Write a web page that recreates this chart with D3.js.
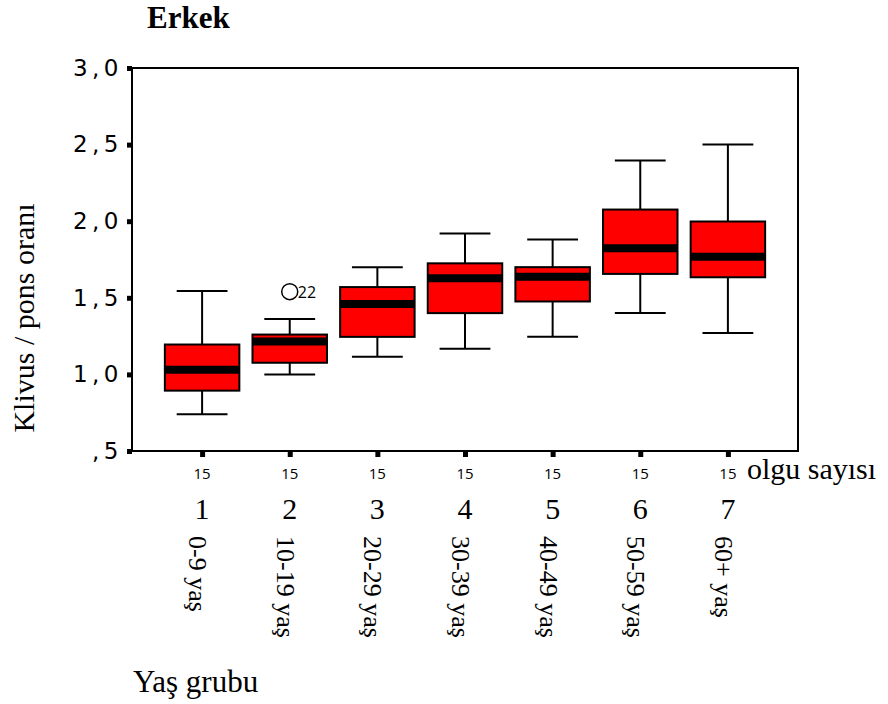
<!DOCTYPE html>
<html>
<head>
<meta charset="utf-8">
<script src="https://cdn.jsdelivr.net/npm/d3@7"></script>
<style>
  body { margin: 0; background: #fff; }
  svg { display: block; }
</style>
</head>
<body>
<svg id="chart" width="888" height="704"></svg>
<script>
// age groups (SPSS boxplot, Erkek)
const groups    = ["1", "2", "3", "4", "5", "6", "7"];
const ageLabels = ["0-9 yaş", "10-19 yaş", "20-29 yaş", "30-39 yaş", "40-49 yaş", "50-59 yaş", "60+ yaş"];
const counts    = [15, 15, 15, 15, 15, 15, 15];
const whiskLow  = [0.74, 1.00, 1.115, 1.167, 1.245, 1.40, 1.271];
const q1        = [0.894, 1.076, 1.245, 1.40, 1.476, 1.656, 1.634];
const medians   = [1.03, 1.214, 1.459, 1.628, 1.638, 1.823, 1.768];
const q3        = [1.195, 1.26, 1.57, 1.725, 1.70, 2.076, 1.998];
const whiskHigh = [1.545, 1.362, 1.70, 1.92, 1.881, 2.396, 2.50];
const outliers  = [{ group: "2", value: 1.54, label: "22" }];
const yTicks    = [0.5, 1.0, 1.5, 2.0, 2.5, 3.0];

const svg = d3.select("#chart");
const plot = { left: 132, right: 798, top: 68, bottom: 451 };

const x = d3.scalePoint().domain(groups).range([plot.left, plot.right]).padding(0.8);
const y = d3.scaleLinear().domain([0.5, 3.0]).range([plot.bottom, plot.top]);
const step = x.step();
const boxW = step * 0.85;
const capW = step * 0.58;

const data = groups.map((g, i) => ({
  g, lo: whiskLow[i], q1: q1[i], med: medians[i], q3: q3[i], hi: whiskHigh[i]
}));

// frame
svg.append("rect")
  .attr("x", plot.left).attr("y", plot.top)
  .attr("width", plot.right - plot.left).attr("height", plot.bottom - plot.top)
  .attr("fill", "none").attr("stroke", "#000").attr("stroke-width", 2);

// y axis
const yAxis = svg.append("g")
  .attr("transform", `translate(${plot.left},0)`)
  .call(d3.axisLeft(y).tickValues(yTicks).tickSizeInner(5).tickSizeOuter(0).tickPadding(4)
    .tickFormat(d => d3.format(".1f")(d).replace(".", ",").replace(/^0/, "")));
yAxis.select(".domain").remove();
yAxis.selectAll(".tick line").attr("stroke-width", 5);
yAxis.selectAll(".tick text")
  .attr("font-family", "DejaVu Sans").attr("font-size", 23)
  .attr("letter-spacing", 4.5).attr("fill", "#000");

// x axis ticks
const xAxis = svg.append("g")
  .attr("transform", `translate(0,${plot.bottom})`)
  .call(d3.axisBottom(x).tickSizeInner(6).tickSizeOuter(0).tickFormat(""));
xAxis.select(".domain").remove();
xAxis.selectAll(".tick line").attr("stroke-width", 5);

// boxes
const box = svg.append("g").selectAll("g").data(data).join("g");
box.append("line")
  .attr("x1", d => x(d.g)).attr("x2", d => x(d.g))
  .attr("y1", d => y(d.hi)).attr("y2", d => y(d.q3))
  .attr("stroke", "#000").attr("stroke-width", 2);
box.append("line")
  .attr("x1", d => x(d.g)).attr("x2", d => x(d.g))
  .attr("y1", d => y(d.q1)).attr("y2", d => y(d.lo))
  .attr("stroke", "#000").attr("stroke-width", 2);
box.append("line")
  .attr("x1", d => x(d.g) - capW / 2).attr("x2", d => x(d.g) + capW / 2)
  .attr("y1", d => y(d.hi)).attr("y2", d => y(d.hi))
  .attr("stroke", "#000").attr("stroke-width", 2);
box.append("line")
  .attr("x1", d => x(d.g) - capW / 2).attr("x2", d => x(d.g) + capW / 2)
  .attr("y1", d => y(d.lo)).attr("y2", d => y(d.lo))
  .attr("stroke", "#000").attr("stroke-width", 2);
box.append("rect")
  .attr("x", d => x(d.g) - boxW / 2).attr("width", boxW)
  .attr("y", d => y(d.q3)).attr("height", d => y(d.q1) - y(d.q3))
  .attr("fill", "#ff0000").attr("stroke", "#000").attr("stroke-width", 2);
box.append("line")
  .attr("x1", d => x(d.g) - boxW / 2).attr("x2", d => x(d.g) + boxW / 2)
  .attr("y1", d => y(d.med)).attr("y2", d => y(d.med))
  .attr("stroke", "#000").attr("stroke-width", 8);

// outliers
const out = svg.append("g").selectAll("g").data(outliers).join("g");
out.append("circle")
  .attr("cx", d => x(d.group)).attr("cy", d => y(d.value)).attr("r", 8)
  .attr("fill", "none").attr("stroke", "#000").attr("stroke-width", 1.5);
out.append("text")
  .attr("x", d => x(d.group) + 8).attr("y", d => y(d.value) + 6)
  .attr("font-family", "Open Sans").attr("font-size", 16)
  .text(d => d.label);

// counts
svg.append("g").selectAll("text").data(groups).join("text")
  .attr("x", d => x(d)).attr("y", 479)
  .attr("text-anchor", "middle")
  .attr("font-family", "Open Sans").attr("font-size", 15)
  .text((d, i) => counts[i]);
svg.append("text")
  .attr("x", x(groups[groups.length - 1]) + 19).attr("y", 479)
  .attr("font-family", "Liberation Serif").attr("font-size", 30)
  .text("olgu sayısı");

// group numbers
svg.append("g").selectAll("text").data(groups).join("text")
  .attr("x", d => x(d)).attr("y", 519)
  .attr("text-anchor", "middle")
  .attr("font-family", "Liberation Serif").attr("font-size", 30)
  .text(d => d);

// rotated age labels
svg.append("g").selectAll("text").data(groups).join("text")
  .attr("transform", d => `translate(${x(d)},536) rotate(90)`)
  .attr("dy", "0.5em")
  .attr("font-family", "Liberation Serif").attr("font-size", 26)
  .text((d, i) => ageLabels[i]);

// titles
svg.append("text")
  .attr("x", 147).attr("y", 28)
  .attr("font-family", "Liberation Serif").attr("font-size", 31).attr("font-weight", "bold")
  .text("Erkek");
svg.append("text")
  .attr("transform", "translate(34,318) rotate(-90)")
  .attr("text-anchor", "middle")
  .attr("font-family", "Liberation Serif").attr("font-size", 30)
  .text("Klivus / pons oranı");
svg.append("text")
  .attr("x", 133).attr("y", 692)
  .attr("font-family", "Liberation Serif").attr("font-size", 31)
  .text("Yaş grubu");
</script>
</body>
</html>
